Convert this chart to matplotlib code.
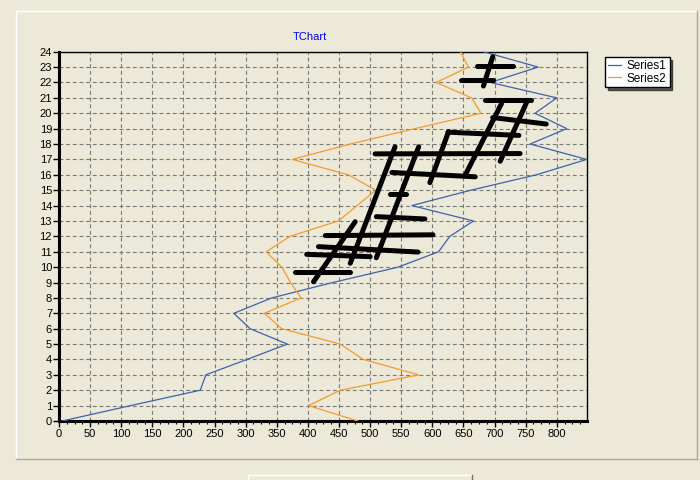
import matplotlib
matplotlib.use("Agg")
import matplotlib.pyplot as plt
from matplotlib.lines import Line2D
from matplotlib.ticker import MultipleLocator

# data (x as a function of the row 0..24)
rows = list(range(25))
series1 = [5, 115, 227, 236, 302, 367, 307, 281, 342, 440, 545, 610, 628,
           666, 567, 662, 767, 848, 757, 816, 765, 800, 693, 770, 682]
series2 = [480, 401, 452, 578, 489, 452, 358, 330, 389, 372, 358, 333, 371,
           449, 479, 509, 465, 375, 468, 572, 678, 663, 606, 658, 645]

# hand drawn black strokes on the chart, start/end in data units
stroke_x = [[379, 468], [398, 500], [417, 577], [428, 601], [510, 588],
            [532, 558], [535, 669], [508, 741], [625, 739], [697, 783],
            [685, 758], [671, 729], [646, 697],
            [409, 476], [468, 540], [510, 578], [596, 626], [653, 711],
            [709, 752], [682, 697]]
stroke_y = [[9.70, 9.70], [10.83, 10.68], [11.33, 10.98], [12.05, 12.10],
            [13.28, 13.13], [14.72, 14.72], [16.15, 15.87], [17.36, 17.38],
            [18.77, 18.56], [19.72, 19.30], [20.83, 20.83], [23.09, 23.09],
            [22.18, 22.18],
            [9.05, 12.95], [10.25, 17.82], [10.61, 17.82], [15.49, 18.80],
            [16.00, 20.62], [16.88, 20.76], [21.77, 23.67]]

xticks = list(range(0, 801, 50))
yticks = list(range(0, 25))

bg = "#ECE9D8"
blue = "#3D62AE"
orange = "#F59B2E"

plt.rcParams['font.family'] = ['Liberation Sans', 'DejaVu Sans']

fig = plt.figure(figsize=(7, 4.8), dpi=100, facecolor=bg)
W, H = 700.0, 480.0

# panel frame (white top/left, grey bottom/right)
fig.add_artist(Line2D([16/W, 697/W], [1-11/H, 1-11/H], color="white", lw=1))
fig.add_artist(Line2D([16/W, 16/W], [1-11/H, 1-459/H], color="white", lw=1))
fig.add_artist(Line2D([16/W, 697/W], [1-459/H, 1-459/H], color="#ACA899", lw=1))
fig.add_artist(Line2D([697/W, 697/W], [1-11/H, 1-459/H], color="#ACA899", lw=1))
# bit of a control peeking in at the bottom
fig.add_artist(Line2D([248/W, 472/W], [1-475/H, 1-475/H], color="white", lw=1))
fig.add_artist(Line2D([248/W, 248/W], [1-475/H, 0], color="white", lw=1))
fig.add_artist(Line2D([472/W, 472/W], [1-475/H, 0], color="#716F64", lw=1))

ax = fig.add_axes([59/W, 1-421/H, (586.7-59)/W, (421-51.7)/H])
ax.set_facecolor(bg)

ax.plot(series1, rows, color=blue, lw=0.9, label="Series1", zorder=3)
ax.plot(series2, rows, color=orange, lw=0.9, label="Series2", zorder=3)

for sx, sy in zip(stroke_x, stroke_y):
    ax.plot(sx, sy, color="black", lw=3.6, solid_capstyle="round", zorder=4)

ax.set_xlim(0, 848)
ax.set_ylim(0, 24)
ax.set_xticks(xticks)
ax.set_yticks(yticks)
ax.xaxis.set_minor_locator(MultipleLocator(12.5))
ax.grid(True, which="major", color="#7A7A7A", lw=0.8, linestyle=(0, (3.5, 2.5)))
ax.set_axisbelow(True)

ax.tick_params(axis="both", which="major", labelsize=8, length=4, width=1,
               direction="out", color="black", pad=2)
ax.tick_params(axis="x", which="minor", length=2, width=0.8, direction="out")
ax.tick_params(axis="y", pad=1)

for side in ["top", "right"]:
    ax.spines[side].set_linewidth(1)
for side in ["left", "bottom"]:
    ax.spines[side].set_linewidth(2.2)

fig.text(310/W, 1-37/H, "TChart", color="blue", ha="center", va="center",
         fontsize=8)

leg = ax.legend(loc="upper left", bbox_to_anchor=(605/W, 1-57/H),
                bbox_transform=fig.transFigure, borderaxespad=0,
                fontsize=8.5, handlelength=1.1, handletextpad=0.5,
                labelspacing=0.05, borderpad=0.25, fancybox=False,
                shadow={"color": "black", "alpha": 0.6}, framealpha=1,
                edgecolor="black")
leg.get_frame().set_linewidth(1)

fig.savefig("out.png", dpi=100, facecolor=bg)
